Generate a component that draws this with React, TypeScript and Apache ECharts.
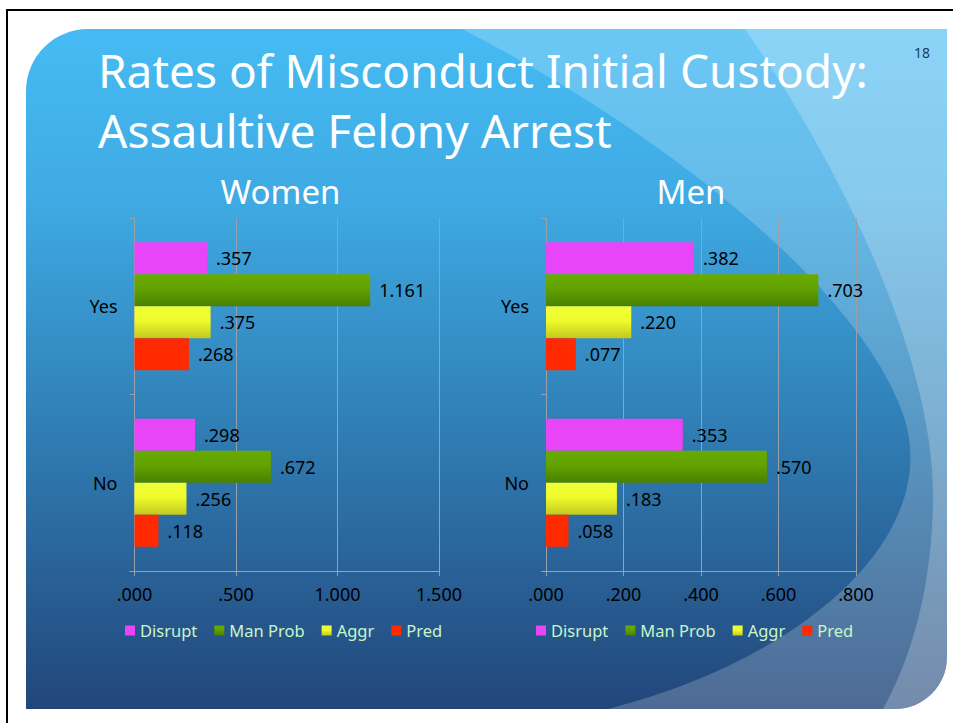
import React, { useEffect, useRef } from 'react';
import * as echarts from 'echarts';

// ---- data ----
const categories = ['Yes', 'No'];
const seriesNames = ['Disrupt', 'Man Prob', 'Aggr', 'Pred'];
const womenDisrupt = [0.357, 0.298];
const womenManProb = [1.161, 0.672];
const womenAggr = [0.375, 0.256];
const womenPred = [0.268, 0.118];
const menDisrupt = [0.382, 0.353];
const menManProb = [0.703, 0.57];
const menAggr = [0.22, 0.183];
const menPred = [0.077, 0.058];
const womenAxisMax = 1.5;
const womenAxisStep = 0.5;
const menAxisMax = 0.8;
const menAxisStep = 0.2;
const titleLines = ['Rates of Misconduct Initial Custody:', 'Assaultive Felony Arrest'];
const panelTitles = ['Women', 'Men'];
const slideNumber = '18';

// ---- shapes ----
const slidePath =
  'M26,709 L26,91 C26,56.8 53.8,29 88,29 L947,29 L947,657 C947,685.7 923.7,709 895,709 Z';
const overlayAPath =
  'M462,29 C640,120 860,280 905,420 C940,540 800,660 608,709 L895,709 C923.7,709 947,685.7 947,657 L947,29 Z';
const overlayBPath =
  'M745,29 C830,150 935,350 933,500 C932,600 905,670 883,709 L895,709 C923.7,709 947,685.7 947,657 L947,29 Z';

echarts.graphic.registerShape('slideBg', echarts.graphic.extendPath(slidePath, {}));
echarts.graphic.registerShape('overlayA', echarts.graphic.extendPath(overlayAPath, {}));
echarts.graphic.registerShape('overlayB', echarts.graphic.extendPath(overlayBPath, {}));

const FONT = '"Noto Sans", "Open Sans", sans-serif';
const axisGray = '#98a1ab';

const fmt = (v: number) => {
  const s = Number(v).toFixed(3);
  return s.startsWith('0.') ? s.slice(1) : s;
};

const vGrad = (stops: [number, string][]) =>
  new echarts.graphic.LinearGradient(
    0,
    0,
    0,
    1,
    stops.map(([offset, color]) => ({ offset, color }))
  );

const seriesColors = [
  '#e845f8',
  vGrad([
    [0, '#69ab00'],
    [0.45, '#62a200'],
    [1, '#4a8000'],
  ]),
  vGrad([
    [0, '#f0ff36'],
    [0.45, '#eefc2c'],
    [1, '#c4c81e'],
  ]),
  '#ff2a00',
];

function makeSeries(idx: number, groups: number[][]) {
  return seriesNames.map((name, i) => ({
    type: 'bar',
    name,
    xAxisIndex: idx,
    yAxisIndex: idx,
    data: groups[i],
    barWidth: 32,
    barGap: '0%',
    itemStyle: { color: seriesColors[i] },
    label: {
      show: true,
      position: 'right',
      distance: 9,
      color: '#000',
      fontSize: 18,
      fontFamily: FONT,
      formatter: (p: any) => fmt(p.value),
    },
  }));
}

function makeXAxis(idx: number, max: number, step: number) {
  return {
    gridIndex: idx,
    type: 'value',
    min: 0,
    max,
    interval: step,
    axisLine: { show: true, lineStyle: { color: axisGray, width: 1 } },
    axisTick: { show: true, length: 5, lineStyle: { color: axisGray } },
    splitLine: { show: true, lineStyle: { color: axisGray, width: 1 } },
    axisLabel: { color: '#000', fontSize: 18, fontFamily: FONT, margin: 14, formatter: fmt },
  };
}

function makeYAxis(idx: number) {
  return {
    gridIndex: idx,
    type: 'category',
    data: categories,
    inverse: true,
    axisLine: { show: true, lineStyle: { color: axisGray, width: 1 } },
    axisTick: { show: true, length: 5, lineStyle: { color: axisGray } },
    splitLine: { show: false },
    axisLabel: { color: '#000', fontSize: 18, fontFamily: FONT, margin: 17 },
  };
}

function makeLegend(left: number) {
  return {
    data: seriesNames,
    left,
    top: 622,
    padding: 0,
    orient: 'horizontal',
    icon: 'rect',
    itemWidth: 10,
    itemHeight: 10,
    itemGap: 17,
    selectedMode: false,
    textStyle: { color: '#c9f5c9', fontSize: 16.5, fontFamily: FONT },
  };
}

export default function App() {
  const ref = useRef<HTMLDivElement>(null);

  useEffect(() => {
    if (!ref.current) return;
    const chart = echarts.init(ref.current, undefined, { renderer: 'svg' });

    const option: any = {
      animation: false,
      backgroundColor: '#ffffff',
      graphic: {
        elements: [
          {
            type: 'slideBg',
            z: -100,
            silent: true,
            style: {
              fill: vGrad([
                [0, '#46bbf3'],
                [0.25, '#3faae3'],
                [0.55, '#3183ba'],
                [1, '#22467a'],
              ]),
            },
          },
          {
            type: 'overlayA',
            z: -99,
            silent: true,
            style: { fill: 'rgba(255,255,255,0.2)' },
          },
          {
            type: 'overlayB',
            z: -98,
            silent: true,
            style: { fill: 'rgba(255,255,255,0.22)' },
          },
          {
            type: 'rect',
            z: -97,
            silent: true,
            shape: { x: 6, y: 9, width: 947, height: 2 },
            style: { fill: '#000' },
          },
          {
            type: 'rect',
            z: -97,
            silent: true,
            shape: { x: 6, y: 9, width: 2, height: 714 },
            style: { fill: '#000' },
          },
          {
            type: 'text',
            z: 50,
            x: 98,
            y: 70,
            style: {
              text: titleLines[0],
              fill: '#ffffff',
              font: `46px ${FONT}`,
              align: 'left',
              verticalAlign: 'middle',
            },
          },
          {
            type: 'text',
            z: 50,
            x: 98,
            y: 130,
            style: {
              text: titleLines[1],
              fill: '#ffffff',
              font: `46px ${FONT}`,
              align: 'left',
              verticalAlign: 'middle',
            },
          },
          {
            type: 'text',
            z: 50,
            x: 280.5,
            y: 191,
            style: {
              text: panelTitles[0],
              fill: '#ffffff',
              font: `33px ${FONT}`,
              align: 'center',
              verticalAlign: 'middle',
            },
          },
          {
            type: 'text',
            z: 50,
            x: 691,
            y: 191,
            style: {
              text: panelTitles[1],
              fill: '#ffffff',
              font: `33px ${FONT}`,
              align: 'center',
              verticalAlign: 'middle',
            },
          },
          {
            type: 'text',
            z: 50,
            x: 922,
            y: 52,
            style: {
              text: slideNumber,
              fill: '#1d3a5f',
              font: `14px ${FONT}`,
              align: 'center',
              verticalAlign: 'middle',
            },
          },
        ],
      },
      legend: [makeLegend(125), makeLegend(536)],
      grid: [
        { left: 134.5, top: 218, width: 304.5, height: 353 },
        { left: 546, top: 218, width: 310, height: 353 },
      ],
      xAxis: [makeXAxis(0, womenAxisMax, womenAxisStep), makeXAxis(1, menAxisMax, menAxisStep)],
      yAxis: [makeYAxis(0), makeYAxis(1)],
      series: [
        ...makeSeries(0, [womenDisrupt, womenManProb, womenAggr, womenPred]),
        ...makeSeries(1, [menDisrupt, menManProb, menAggr, menPred]),
      ],
    };

    chart.setOption(option);
    return () => chart.dispose();
  }, []);

  return (
    <div
      ref={ref}
      style={{ position: 'absolute', left: 0, top: 0, width: 953, height: 723 }}
    />
  );
}
